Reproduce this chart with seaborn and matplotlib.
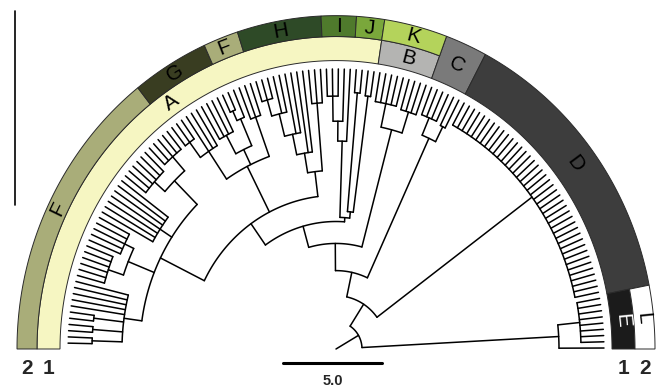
import numpy as np
import pandas as pd
import matplotlib.pyplot as plt
import seaborn as sns

sns.set_theme(style="white")
plt.rcParams["font.family"] = ["Liberation Sans", "DejaVu Sans"]

# ---- data -------------------------------------------------------------
# tree nodes: (distance from root in px, [children]); an int child = that many leaves
E_clade = (223, [(245, [8]), 1])
D_clade = (244, [40])
C_clade = (222, [(240, [4]), (238, [2])])
B_clade = (217, [(240, [5]), (238, [4])])
I_clade = (199, [(218, [(242, [3]), 1]), 1])
J_clade = (132, [(246, [2]), (244, [2])])
A1 = (196, [
    (214, [(244, [2]), (244, [2]), (244, [2]), 5]),
    (224, [(240, [6]), (234, [5])]),
    (210, [7]),
    (228, [(242, [6]), (246, [5])]),
])
A2 = (196, [(228, [(246, [3]), 3]), (212, [(232, [4]), (240, [(250, [2]), 1])]), (236, [3])])
A3 = (171, [(190, [(210, [(232, [(248, [3]), 2]), 2]), 2]), (236, [3])])
tree = (26, [
    (51, [
        (75, [
            (101, [
                (122, [(147, [A1, A2, A3]), (126, [I_clade, J_clade])]),
                B_clade]),
            C_clade]),
        D_clade]),
    E_clade])

# inner ring (1)
ring1_labels = ["A", "B", "C", "D", "E"]
ring1_counts = [77, 9, 6, 40, 9]
ring1_colors = ["#f6f6c2", "#b4b4b2", "#7a7a7a", "#3d3d3d", "#1b1b1b"]
# outer ring (2); None = covered by a band of ring 1 spanning both rings
ring2_labels = ["F", "G", "F", "H", "I", "J", "K", None, None, "L"]
ring2_counts = [40, 11, 5, 12, 5, 4, 9, 6, 40, 9]
ring2_colors = ["#a9ad79", "#393d21", "#a9ad79", "#2e4a27", "#4f7a2c", "#7aa73b",
                "#b4d35b", None, None, "#ffffff"]
both_rings = ["C", "D"]
label_angle = {"A": 125}

scale_value = 5.0

# ---- geometry ---------------------------------------------------------
cx, cy, sy = 336, 349, 1.045
leaf_r = 268
r1_in, r1_out, r2_out = 276, 299, 319


def xy(r, th):
    t = np.radians(th)
    return cx + r * np.cos(t), cy - sy * r * np.sin(t)


def n_leaves(node):
    return sum(k if isinstance(k, int) else n_leaves(k) for k in node[1])


N = n_leaves(tree)
leaf_angles = np.linspace(178.8, 0.2, N)

rows = []
seg = [0]
counter = [0]


def add_line(r0, r1, a0, a1):
    npts = max(2, int(abs(a1 - a0) * 1.5))
    rr = np.linspace(r0, r1, npts)
    aa = np.linspace(a0, a1, npts)
    x, y = xy(rr, aa)
    for xi, yi in zip(x, y):
        rows.append((seg[0], xi, yi))
    seg[0] += 1


def walk(node):
    r, kids = node
    angs = []
    for kid in kids:
        if isinstance(kid, int):
            for _ in range(kid):
                a = leaf_angles[counter[0]]
                counter[0] += 1
                add_line(r, leaf_r, a, a)
                angs.append(a)
        else:
            a = walk(kid)
            add_line(r, kid[0], a, a)
            angs.append(a)
    add_line(r, r, angs[0], angs[-1])
    return (angs[0] + angs[-1]) / 2


root_angle = walk(tree)
add_line(0, tree[0], root_angle, root_angle)
df = pd.DataFrame(rows, columns=["seg", "x", "y"])

# ---- figure -----------------------------------------------------------
fig = plt.figure(figsize=(6.63, 3.88), dpi=100)
ax = fig.add_axes([0, 0, 1, 1])


def band_edges(counts):
    idx = np.cumsum(counts)[:-1]
    inner = [(leaf_angles[i - 1] + leaf_angles[i]) / 2 for i in idx]
    return [180.0] + inner + [0.0]


def band(a0, a1, rin, rout, color):
    aa = np.linspace(a0, a1, 80)
    xo, yo = xy(rout, aa)
    xi, yi = xy(rin, aa[::-1])
    ax.fill(np.r_[xo, xi], np.r_[yo, yi], facecolor=color, edgecolor="#2a2a2a",
            linewidth=0.7, zorder=1)


def ring_label(text, a, r, color):
    x, y = xy(r, a)
    ax.text(x, y, text, rotation=a - 90, ha="center", va="center",
            fontsize=15, color=color, rotation_mode="anchor", zorder=3)


e1 = band_edges(ring1_counts)
for i, lab in enumerate(ring1_labels):
    rout = r2_out if lab in both_rings else r1_out
    band(e1[i], e1[i + 1], r1_in, rout, ring1_colors[i])
    a = label_angle.get(lab, (e1[i] + e1[i + 1]) / 2)
    ring_label(lab, a, (r1_in + rout) / 2, "white" if lab == "E" else "black")

e2 = band_edges(ring2_counts)
for i, lab in enumerate(ring2_labels):
    if lab is None:
        continue
    band(e2[i], e2[i + 1], r1_out, r2_out, ring2_colors[i])
    ring_label(lab, (e2[i] + e2[i + 1]) / 2, (r1_out + r2_out) / 2, "black")

# dendrogram
sns.lineplot(data=df, x="x", y="y", units="seg", estimator=None, sort=False,
             color="black", linewidth=1.1, legend=False, ax=ax, zorder=2)

# ring numbers
for r, t in [((r1_out + r2_out) / 2, "2"), ((r1_in + r1_out) / 2, "1")]:
    ax.text(cx - r, 368, t, ha="center", va="center", fontsize=15, fontweight="bold")
    ax.text(cx + r, 368, t, ha="center", va="center", fontsize=15, fontweight="bold")

# scale bar
px_per_unit = 99 / scale_value
x0 = 283
ax.plot([x0, x0 + scale_value * px_per_unit], [363, 363], color="black", lw=2.2)
ax.text(x0 + scale_value * px_per_unit / 2, 381, f"{scale_value:.1f}", ha="center",
        va="center", fontsize=10.5, fontweight="bold")

# thin frame line on the left
ax.plot([15, 15], [11, 205], color="black", lw=1.2)

ax.set_xlim(0, 663)
ax.set_ylim(388, 0)
ax.axis("off")
fig.savefig("out.png", dpi=100)
